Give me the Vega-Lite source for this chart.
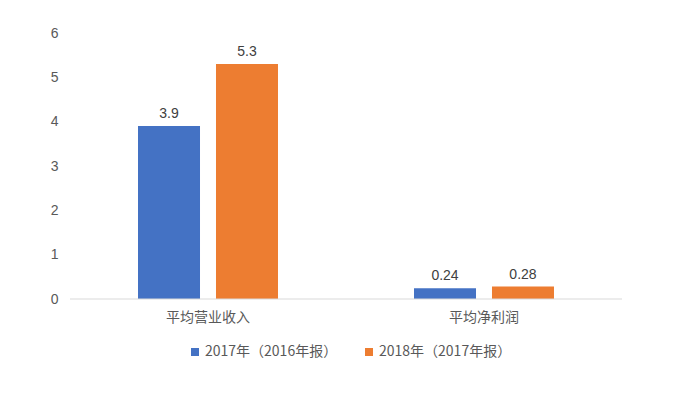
{
  "$schema": "https://vega.github.io/schema/vega-lite/v6.json",
  "width": 552,
  "height": 266,
  "autosize": {"type": "none"},
  "padding": {"left": 70, "top": 33, "right": 62, "bottom": 98},
  "background": "white",
  "config": {
    "font": "Liberation Sans, Noto Sans CJK SC, sans-serif",
    "view": {"stroke": null}
  },
  "data": {
    "values": [
      {"cat": "平均营业收入", "series": "2017年（2016年报）", "value": 3.9, "label": "3.9"},
      {"cat": "平均营业收入", "series": "2018年（2017年报）", "value": 5.3, "label": "5.3"},
      {"cat": "平均净利润", "series": "2017年（2016年报）", "value": 0.24, "label": "0.24"},
      {"cat": "平均净利润", "series": "2018年（2017年报）", "value": 0.28, "label": "0.28"}
    ]
  },
  "encoding": {
    "x": {
      "field": "cat", "type": "nominal", "sort": ["平均营业收入", "平均净利润"],
      "scale": {"paddingInner": 0, "paddingOuter": 0},
      "axis": {"title": null, "labelAngle": 0, "ticks": false, "domain": false, "labelFontSize": 14, "labelColor": "#595959", "labelPadding": 11, "labelFont": "Noto Sans CJK SC"}
    },
    "xOffset": {
      "field": "series", "type": "nominal",
      "scale": {"paddingInner": 0.205, "paddingOuter": 0.872}
    },
    "y": {
      "field": "value", "type": "quantitative",
      "scale": {"domain": [0, 6]},
      "axis": {"title": null, "tickCount": 6, "grid": false, "ticks": false, "domain": false, "labelFontSize": 14, "labelColor": "#595959", "labelPadding": 12}
    },
    "color": {
      "field": "series", "type": "nominal",
      "scale": {"range": ["#4472c4", "#ed7d31"]},
      "legend": {
        "title": null, "orient": "none", "direction": "horizontal",
        "legendX": 118, "legendY": 312,
        "symbolType": "square", "symbolSize": 64, "symbolStrokeWidth": 0,
        "labelFontSize": 14, "labelColor": "#595959", "labelFont": "Noto Sans CJK SC",
        "columnPadding": 24, "labelOffset": 3
      }
    }
  },
  "layer": [
    {"mark": {"type": "bar"}},
    {
      "mark": {"type": "text", "dy": -12, "fontSize": 14, "color": "#404040"},
      "encoding": {"text": {"field": "label"}, "color": {"value": "#404040"}}
    },
    {
      "data": {"values": [{"v": 0}]},
      "mark": {"type": "rule", "color": "#d9d9d9", "strokeWidth": 1},
      "encoding": {"y": {"field": "v", "type": "quantitative"}, "x": {"value": 0}, "x2": {"value": 552}, "xOffset": null, "color": null}
    }
  ]
}
